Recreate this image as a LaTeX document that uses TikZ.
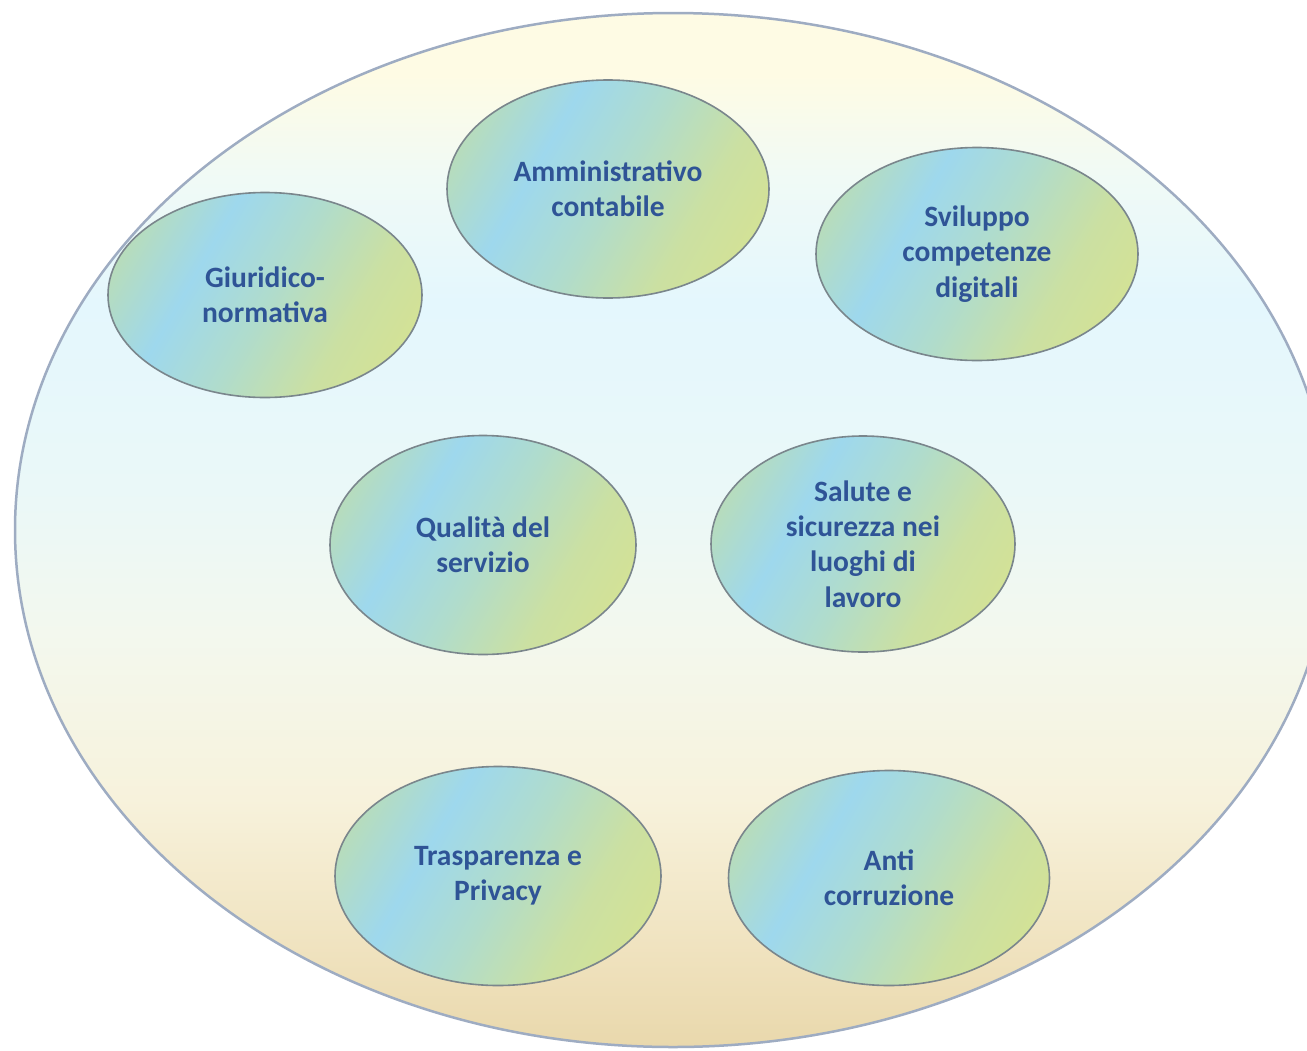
\documentclass[tikz,border=0pt]{standalone}
\usepackage{fontspec}
\setmainfont{Carlito}
\usetikzlibrary{shapes.geometric}
\definecolor{txt}{RGB}{47,84,150}
\definecolor{areaedge}{RGB}{122,134,140}
\definecolor{outeredge}{RGB}{158,172,194}
\definecolor{bgA}{RGB}{233,216,172}
\definecolor{bgB}{RGB}{240,227,192}
\definecolor{bgC}{RGB}{247,242,220}
\definecolor{bgD}{RGB}{243,248,238}
\definecolor{bgE}{RGB}{234,248,248}
\definecolor{bgF}{RGB}{228,247,253}
\definecolor{bgG}{RGB}{240,250,246}
\definecolor{bgH}{RGB}{254,251,228}
\definecolor{pA}{RGB}{186,221,182}
\definecolor{pB}{RGB}{158,216,237}
\definecolor{pC}{RGB}{176,220,204}
\definecolor{pD}{RGB}{203,224,162}
\definecolor{pE}{RGB}{212,226,149}
\pgfdeclareverticalshading{bgshade}{100bp}{color(0bp)=(bgA); color(25bp)=(bgA); color(30bp)=(bgB); color(37bp)=(bgC); color(45bp)=(bgD); color(52bp)=(bgE); color(61bp)=(bgF); color(67bp)=(bgG); color(72bp)=(bgH); color(100bp)=(bgH)}
\pgfdeclarehorizontalshading{pillshade}{100bp}{color(0bp)=(pA); color(22bp)=(pA); color(37bp)=(pB); color(51bp)=(pC); color(66bp)=(pD); color(78bp)=(pE); color(100bp)=(pE)}
\begin{document}
\begin{tikzpicture}[x=1pt,y=-1pt,
  area/.style={ellipse, draw=areaedge, line width=1.6pt, shading=pillshade, shading angle=-30,
    inner sep=0pt, font=\bfseries\fontsize{29.5}{35.3}\selectfont, text=txt, align=center},
  outerarea/.style={ellipse, draw=outeredge, line width=2.5pt, shading=bgshade, inner sep=0pt}]
\useasboundingbox (0,0) rectangle (1307,1050);
\fill[white] (0,0) rectangle (1307,1050);
\begin{scope}
\clip (0,0) rectangle (1307,1050);
\node[outerarea, minimum width=1316pt, minimum height=1034pt] (outer) at (673,530) {};
\end{scope}
\node[area, minimum width=322pt, minimum height=218pt] (amm) at (608,189) {Amministrativo\\contabile};
\node[area, minimum width=314pt, minimum height=205pt] (giu) at (265,295) {Giuridico-\\normativa};
\node[area, minimum width=322pt, minimum height=213pt] (svi) at (977,254) {Sviluppo\\competenze\\digitali};
\node[area, minimum width=306pt, minimum height=219pt] (qua) at (483,545) {Qualità del\\servizio};
\node[area, minimum width=304pt, minimum height=216pt] (sal) at (863,544) {Salute e\\sicurezza nei\\luoghi di\\lavoro};
\node[area, minimum width=326pt, minimum height=219pt] (tra) at (498,876) {Trasparenza e\\Privacy};
\node[area, minimum width=321pt, minimum height=215pt] (ant) at (889,878) {Anti\\corruzione};
\end{tikzpicture}
\end{document}
